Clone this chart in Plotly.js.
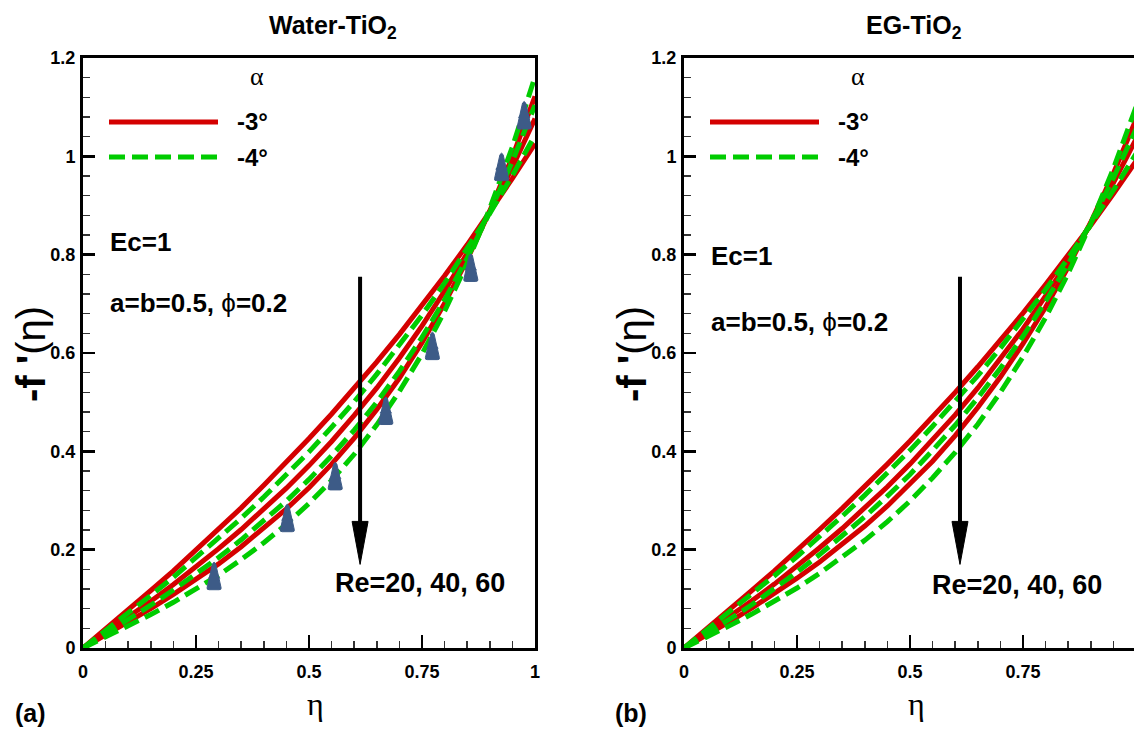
<!DOCTYPE html>
<html><head><meta charset="utf-8">
<script src="https://cdn.plot.ly/plotly-3.0.1.min.js"></script>
<style>html,body{margin:0;padding:0;overflow:hidden;background:#fff}#chart{width:1140px;height:731px}</style>
</head><body><div id="chart"></div>
<script>
// ---- data ----
const eta = [0, 0.05, 0.1, 0.15, 0.2, 0.25, 0.3, 0.35, 0.4, 0.45, 0.5, 0.55, 0.6, 0.65, 0.7, 0.75, 0.8, 0.85, 0.9, 0.95, 1];
// (a) Water-TiO2
const waterRe20a3 = [0, 0.038, 0.077, 0.117, 0.157, 0.199, 0.242, 0.285, 0.331, 0.377, 0.426, 0.476, 0.528, 0.582, 0.638, 0.696, 0.757, 0.820, 0.886, 0.955, 1.026];
const waterRe40a3 = [0, 0.031, 0.062, 0.095, 0.129, 0.165, 0.202, 0.241, 0.282, 0.325, 0.371, 0.420, 0.473, 0.529, 0.590, 0.655, 0.726, 0.803, 0.887, 0.978, 1.077];
const waterRe60a3 = [0, 0.026, 0.052, 0.080, 0.109, 0.139, 0.171, 0.206, 0.243, 0.283, 0.326, 0.374, 0.427, 0.485, 0.549, 0.621, 0.701, 0.790, 0.889, 0.999, 1.122];
const waterRe20a4 = [0, 0.035, 0.071, 0.107, 0.144, 0.183, 0.222, 0.264, 0.307, 0.352, 0.399, 0.449, 0.501, 0.557, 0.615, 0.677, 0.742, 0.811, 0.884, 0.961, 1.043];
const waterRe40a4 = [0, 0.028, 0.057, 0.087, 0.118, 0.150, 0.184, 0.220, 0.258, 0.299, 0.343, 0.391, 0.443, 0.500, 0.563, 0.632, 0.708, 0.793, 0.886, 0.990, 1.104];
const waterRe60a4 = [0, 0.022, 0.044, 0.068, 0.093, 0.120, 0.148, 0.180, 0.214, 0.252, 0.294, 0.341, 0.394, 0.454, 0.522, 0.598, 0.685, 0.783, 0.894, 1.019, 1.162];
const triEta = [0.290, 0.452, 0.558, 0.670, 0.773, 0.858, 0.926, 0.976];
const triVal = [0.147, 0.265, 0.350, 0.483, 0.615, 0.774, 0.979, 1.084];
// (b) EG-TiO2
const egRe20a3 = [0, 0.038, 0.077, 0.117, 0.157, 0.198, 0.241, 0.284, 0.328, 0.374, 0.421, 0.470, 0.520, 0.572, 0.626, 0.681, 0.739, 0.798, 0.860, 0.924, 0.990];
const egRe40a3 = [0, 0.031, 0.063, 0.096, 0.130, 0.166, 0.204, 0.243, 0.285, 0.328, 0.374, 0.423, 0.474, 0.529, 0.587, 0.649, 0.716, 0.787, 0.864, 0.946, 1.035];
const egRe60a3 = [0, 0.026, 0.053, 0.081, 0.111, 0.142, 0.175, 0.211, 0.248, 0.289, 0.333, 0.380, 0.432, 0.489, 0.551, 0.619, 0.693, 0.775, 0.866, 0.965, 1.075];
const egRe20a4 = [0, 0.036, 0.072, 0.109, 0.147, 0.186, 0.226, 0.268, 0.311, 0.355, 0.402, 0.451, 0.501, 0.554, 0.610, 0.668, 0.729, 0.793, 0.861, 0.931, 1.005];
const egRe40a4 = [0, 0.028, 0.058, 0.088, 0.120, 0.154, 0.190, 0.227, 0.267, 0.309, 0.353, 0.402, 0.453, 0.509, 0.569, 0.634, 0.705, 0.781, 0.865, 0.956, 1.055];
const egRe60a4 = [0, 0.022, 0.045, 0.069, 0.095, 0.122, 0.152, 0.184, 0.219, 0.257, 0.299, 0.346, 0.398, 0.455, 0.520, 0.592, 0.672, 0.762, 0.863, 0.975, 1.100];

const xTickVals = [0, 0.25, 0.5, 0.75, 1];
const xTickText = ['0', '0.25', '0.5', '0.75', '1'];
const yTickVals = [0, 0.2, 0.4, 0.6, 0.8, 1, 1.2];
const yTickText = ['0', '0.2', '0.4', '0.6', '0.8', '1', '1.2'];
const panelTitles = ['Water-TiO<sub>2</sub>', 'EG-TiO<sub>2</sub>'];
const legendLabels = ['-3°', '-4°'];

// ---- styling ----
const W = 1140, H = 731;
const RED = '#d40000', GREEN = '#00cc00', TRI = '#3d5b87';
const FB = 'Liberation Sans, Arial, Helvetica, sans-serif';
const FS = 'Liberation Serif, Times New Roman, serif';
const px = v => v / W, py = v => 1 - v / H;
const NB = '\u00a0';

function line(x, y, color, dashed, xa, ya) {
  return {x: x, y: y, xaxis: xa, yaxis: ya, type: 'scatter', mode: 'lines',
    line: {color: color, width: 5, dash: dashed ? '16px,7px' : 'solid'},
    showlegend: false, hoverinfo: 'skip'};
}

const traces = [
  line(eta, waterRe20a3, RED, false, 'x', 'y'),
  line(eta, waterRe40a3, RED, false, 'x', 'y'),
  line(eta, waterRe60a3, RED, false, 'x', 'y'),
  line(eta, waterRe20a4, GREEN, true, 'x', 'y'),
  line(eta, waterRe40a4, GREEN, true, 'x', 'y'),
  line(eta, waterRe60a4, GREEN, true, 'x', 'y'),
  {x: triEta, y: triVal, xaxis: 'x', yaxis: 'y', type: 'scatter', mode: 'markers',
   marker: {symbol: 'triangle-up', size: 11, color: TRI}, showlegend: false, hoverinfo: 'skip'},
  line(eta, egRe20a3, RED, false, 'x2', 'y2'),
  line(eta, egRe40a3, RED, false, 'x2', 'y2'),
  line(eta, egRe60a3, RED, false, 'x2', 'y2'),
  line(eta, egRe20a4, GREEN, true, 'x2', 'y2'),
  line(eta, egRe40a4, GREEN, true, 'x2', 'y2'),
  line(eta, egRe60a4, GREEN, true, 'x2', 'y2')
];

function xax(dom) {
  return {domain: dom, range: [0, 1], showgrid: false, zeroline: false,
    showline: true, mirror: true, linecolor: '#000', linewidth: 3,
    ticks: 'inside', ticklen: 13, tickwidth: 2.5, tickcolor: '#000',
    tickvals: xTickVals, ticktext: xTickText, ticklabelstandoff: 5,
    minor: {ticks: 'inside', ticklen: 7, tickwidth: 1.5, tickcolor: '#333', dtick: 0.05, tick0: 0, showgrid: false},
    tickfont: {family: FB, size: 18, color: '#000', weight: 'bold'}, fixedrange: true};
}
function yax(dom, anchor) {
  return {domain: dom, range: [0, 1.2], anchor: anchor, showgrid: false, zeroline: false,
    showline: true, mirror: true, linecolor: '#000', linewidth: 3,
    ticks: 'inside', ticklen: 12, tickwidth: 2.5, tickcolor: '#000',
    tickvals: yTickVals, ticktext: yTickText, ticklabelstandoff: 1,
    minor: {ticks: 'inside', ticklen: 7, tickwidth: 1.5, tickcolor: '#333', dtick: 0.04, tick0: 0, showgrid: false},
    tickfont: {family: FB, size: 18, color: '#000', weight: 'bold'}, fixedrange: true};
}

const yDom = [(H - 648) / H, (H - 58) / H];
const layout = {
  width: W, height: H, margin: {l: 0, r: 0, t: 0, b: 0},
  paper_bgcolor: '#fff', plot_bgcolor: '#fff', showlegend: false,
  xaxis: Object.assign(xax([83 / W, 535 / W]), {anchor: 'y'}),
  yaxis: yax(yDom, 'x'),
  xaxis2: Object.assign(xax([684 / W, 1136 / W]), {anchor: 'y2'}),
  yaxis2: yax(yDom, 'x2'),
  shapes: [], annotations: []
};

const panels = [
  {dx: 0, xa: 'x', ya: 'y', arrowEta: 0.613, title: panelTitles[0], titleX: 333, lab: '(a)',
   ecY: 242, abY: 303, reX: 333, reY: 583},
  {dx: 601, xa: 'x2', ya: 'y2', arrowEta: 0.6106, title: panelTitles[1], titleX: 914, lab: '(b)',
   ecY: 256, abY: 322, reX: 930, reY: 585}
];

panels.forEach(p => {
  const A = layout.annotations, S = layout.shapes;
  const ann = (x, y, text, font, xanchor, extra) => A.push(Object.assign({
    xref: 'paper', yref: 'paper', x: px(x), y: py(y), text: text, showarrow: false,
    xanchor: xanchor || 'center', yanchor: 'middle', font: font}, extra || {}));
  ann(p.titleX, 27, '<b>' + p.title + '</b>', {family: FB, size: 25, color: '#000'});
  ann(30 + p.dx, 713, '<b>' + p.lab + '</b>', {family: FB, size: 25, color: '#000'});
  ann(316 + p.dx, 704, 'η', {family: FS, size: 32, color: '#000'});
  ann(31 + p.dx, 354, '<b>-f' + NB + '\'</b>(η)', {family: FB, size: 40, color: '#000'}, 'center', {textangle: -90});
  ann(257 + p.dx, 76, 'α', {family: FS, size: 26, color: '#000'});
  ann(235 + p.dx, 122, '<b>' + legendLabels[0] + '</b>', {family: FB, size: 24, color: '#000'}, 'left');
  ann(235 + p.dx, 157, '<b>' + legendLabels[1] + '</b>', {family: FB, size: 24, color: '#000'}, 'left');
  ann(108 + p.dx, p.ecY, '<b>Ec=1</b>', {family: FB, size: 26, color: '#000'}, 'left');
  ann(108 + p.dx, p.abY, '<b>a=b=0.5, </b>ϕ<b>=0.2</b>', {family: FB, size: 26, color: '#000'}, 'left');
  ann(p.reX, p.reY, '<b>Re=20, 40, 60</b>', {family: FB, size: 27, color: '#000'}, 'left');
  // legend samples
  S.push({type: 'line', xref: 'paper', yref: 'paper', x0: px(109 + p.dx), x1: px(218 + p.dx), y0: py(122), y1: py(122),
    line: {color: RED, width: 5}});
  S.push({type: 'line', xref: 'paper', yref: 'paper', x0: px(109 + p.dx), x1: px(218 + p.dx), y0: py(157), y1: py(157),
    line: {color: GREEN, width: 5, dash: '16px,7px'}});
  // arrow
  S.push({type: 'line', xref: p.xa, yref: p.ya, x0: p.arrowEta, x1: p.arrowEta, y0: 0.755, y1: 0.24,
    line: {color: '#000', width: 4}});
  S.push({type: 'path', xref: p.xa, yref: p.ya, xsizemode: 'pixel', ysizemode: 'pixel',
    xanchor: p.arrowEta, yanchor: 0.17, path: 'M -8,43 L 8,43 L 0,0 Z',
    fillcolor: '#000', line: {color: '#000', width: 1}});
});

// validation triangles (tall cones) anchored at the marker data
triEta.forEach((e, i) => {
  layout.shapes.push({type: 'path', xref: 'x', yref: 'y', xsizemode: 'pixel', ysizemode: 'pixel',
    xanchor: e, yanchor: triVal[i],
    path: 'M -7,-12 Q -7.5,-14 -5,-14 L 5,-14 Q 7.5,-14 7,-12 L 1.6,12 Q 0,15 -1.6,12 Z',
    fillcolor: TRI, line: {color: TRI, width: 1}});
});

Plotly.newPlot('chart', traces, layout, {staticPlot: true, displayModeBar: false});
</script>
</body></html>
